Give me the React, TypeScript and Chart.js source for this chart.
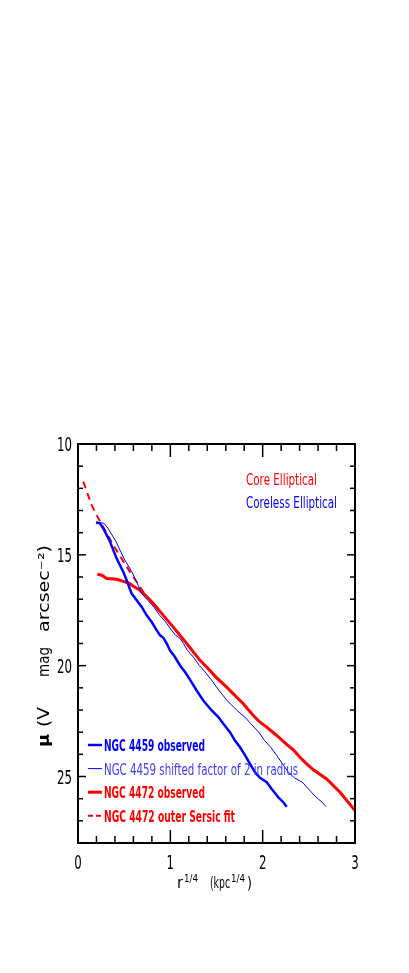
import React, { useEffect, useRef } from 'react';
import { Chart, registerables } from 'chart.js';

Chart.register(...registerables);

// ---------- data ----------
const n4459X = [0.195, 0.238, 0.274, 0.347, 0.419, 0.491, 0.527, 0.581, 0.636, 0.69, 0.744, 0.798, 0.852, 0.888, 0.924, 0.961, 0.996, 1.05, 1.105, 1.159, 1.213, 1.285, 1.357, 1.448, 1.52, 1.574, 1.646, 1.70, 1.755, 1.81, 1.863, 1.917, 1.971, 2.044, 2.098, 2.17, 2.224, 2.26];
const n4459Y = [13.54, 13.58, 13.81, 14.41, 15.17, 15.77, 16.15, 16.75, 17.05, 17.35, 17.73, 18.03, 18.4, 18.63, 18.74, 19.0, 19.31, 19.61, 19.99, 20.29, 20.63, 21.12, 21.57, 22.02, 22.32, 22.62, 23.0, 23.38, 23.68, 24.05, 24.43, 24.81, 25.06, 25.26, 25.56, 25.94, 26.16, 26.36];

const n4459ShiftX = [0.205, 0.283, 0.326, 0.413, 0.498, 0.584, 0.627, 0.691, 0.756, 0.821, 0.885, 0.949, 1.013, 1.056, 1.099, 1.143, 1.184, 1.249, 1.314, 1.378, 1.442, 1.528, 1.614, 1.722, 1.807, 1.872, 1.957, 2.021, 2.087, 2.152, 2.215, 2.279, 2.344, 2.43, 2.495, 2.58, 2.644, 2.687];
const n4459ShiftY = [13.52, 13.58, 13.81, 14.41, 15.17, 15.77, 16.15, 16.75, 17.05, 17.35, 17.73, 18.03, 18.4, 18.63, 18.74, 19.0, 19.31, 19.61, 19.99, 20.29, 20.63, 21.12, 21.57, 22.02, 22.32, 22.62, 23.0, 23.38, 23.68, 24.05, 24.43, 24.81, 25.06, 25.26, 25.56, 25.94, 26.16, 26.36];

const n4472X = [0.209, 0.257, 0.31, 0.365, 0.419, 0.491, 0.563, 0.6, 0.671, 0.744, 0.816, 0.924, 1.032, 1.177, 1.321, 1.393, 1.502, 1.61, 1.682, 1.79, 1.899, 1.971, 2.044, 2.152, 2.26, 2.332, 2.404, 2.477, 2.549, 2.693, 2.838, 3.0];
const n4472Y = [15.87, 15.92, 16.07, 16.08, 16.1, 16.2, 16.3, 16.42, 16.6, 16.88, 17.2, 17.73, 18.26, 19.0, 19.76, 20.06, 20.55, 20.97, 21.27, 21.72, 22.25, 22.55, 22.77, 23.15, 23.55, 23.8, 24.13, 24.43, 24.7, 25.11, 25.71, 26.54];

const sersicX = [0.057, 0.148, 0.202, 0.3, 0.382, 0.47, 0.563, 0.707, 0.816, 0.924, 1.0];
const sersicY = [11.7, 12.76, 13.21, 13.95, 14.56, 15.15, 15.77, 16.67, 17.22, 17.74, 18.12];

const seriesLabels = [
  'NGC 4459 observed',
  'NGC 4459 shifted factor of 2 in radius',
  'NGC 4472 observed',
  'NGC 4472 outer Sersic fit',
];
const noteLabels = ['Core Elliptical', 'Coreless Elliptical'];
const xTickLabels = ['0', '1', '2', '3'];
const yTickLabels = ['10', '15', '20', '25'];

const xRange = [0, 3];
const yRange = [10, 28];
const xMajorStep = 1;
const xMinorStep = 0.2;
const yMajorStep = 5;
const yMinorStep = 1;

// ---------- styling / layout ----------
const BLUE = '#0000ff';
const RED = '#ff0000';
const TXT = 'DejaVu Sans, sans-serif';

const zip = (xs: number[], ys: number[]) => xs.map((x, i) => ({ x, y: ys[i] }));

function fitText(ctx: CanvasRenderingContext2D, text: string, x: number, y: number, w: number, font: string, color: string) {
  ctx.save();
  ctx.font = font;
  ctx.fillStyle = color;
  ctx.textAlign = 'left';
  ctx.textBaseline = 'alphabetic';
  const m = ctx.measureText(text).width || 1;
  ctx.translate(x, y);
  ctx.scale(w / m, 1);
  ctx.fillText(text, 0, 0);
  ctx.restore();
}

function scaledText(ctx: CanvasRenderingContext2D, text: string, x: number, y: number, sx: number, font: string, color: string, align: CanvasTextAlign) {
  ctx.save();
  ctx.font = font;
  ctx.fillStyle = color;
  ctx.textAlign = align;
  ctx.textBaseline = 'alphabetic';
  ctx.translate(x, y);
  ctx.scale(sx, 1);
  ctx.fillText(text, 0, 0);
  ctx.restore();
}

const decorPlugin = {
  id: 'decor',
  afterDatasetsDraw(chart: any) {
    const { ctx, chartArea: a, scales } = chart;
    const xs = scales.x;
    const ys = scales.y;
    ctx.save();
    ctx.strokeStyle = '#000';
    ctx.lineWidth = 2;
    ctx.strokeRect(a.left, a.top, a.right - a.left, a.bottom - a.top);

    const seg = (x1: number, y1: number, x2: number, y2: number) => {
      ctx.beginPath();
      ctx.moveTo(x1, y1);
      ctx.lineTo(x2, y2);
      ctx.stroke();
    };
    ctx.lineWidth = 1.5;
    const nx = Math.round((xRange[1] - xRange[0]) / xMinorStep);
    for (let i = 0; i <= nx; i++) {
      const v = xRange[0] + i * xMinorStep;
      const major = Math.abs(v / xMajorStep - Math.round(v / xMajorStep)) < 1e-6;
      const L = major ? 13 : 7;
      const px = xs.getPixelForValue(v);
      seg(px, a.bottom, px, a.bottom - L);
      seg(px, a.top, px, a.top + L);
    }
    const ny = Math.round((yRange[1] - yRange[0]) / yMinorStep);
    for (let i = 0; i <= ny; i++) {
      const v = yRange[0] + i * yMinorStep;
      const major = Math.abs(v / yMajorStep - Math.round(v / yMajorStep)) < 1e-6;
      const L = major ? 8 : 5;
      const py = ys.getPixelForValue(v);
      seg(a.left, py, a.left + L, py);
      seg(a.right, py, a.right - L, py);
    }

    // tick labels from the library's ticks
    const tickFont = `19px ${TXT}`;
    (xs.ticks || []).forEach((t: any) => {
      const lab = t.label ?? String(t.value);
      scaledText(ctx, String(lab), xs.getPixelForValue(t.value), a.bottom + 26, 0.62, tickFont, '#000', 'center');
    });
    (ys.ticks || []).forEach((t: any) => {
      const lab = t.label ?? String(t.value);
      scaledText(ctx, String(lab), a.left - 6, ys.getPixelForValue(t.value) + 7, 0.62, tickFont, '#000', 'right');
    });

    // legend (from datasets)
    const legW = [101, 194, 101, 131];
    chart.data.datasets.forEach((ds: any, i: number) => {
      const base = 751 + 23.6 * i;
      const ly = base - 6;
      ctx.save();
      ctx.strokeStyle = ds.borderColor;
      ctx.lineWidth = ds.borderWidth;
      ctx.setLineDash(ds.borderDash ? [5, 3] : []);
      seg(88, ly, 102, ly);
      ctx.restore();
      const bold = ds.borderWidth > 1.5;
      fitText(ctx, ds.label, 104, base, legW[i], `${bold ? 'bold ' : ''}15px ${TXT}`, bold ? ds.borderColor : '#3c3cff');
    });

    // annotations
    fitText(ctx, noteLabels[0], 246, 485, 71, `16px ${TXT}`, RED);
    fitText(ctx, noteLabels[1], 246, 508, 91, `16px ${TXT}`, BLUE);

    // x title: r^{1/4}  (kpc^{1/4})
    fitText(ctx, 'r', 177, 888, 6, `16px ${TXT}`, '#000');
    fitText(ctx, '1/4', 184, 882, 14, `11px ${TXT}`, '#000');
    fitText(ctx, '(kpc', 210, 888, 20, `16px ${TXT}`, '#000');
    fitText(ctx, '1/4', 231, 882, 14, `11px ${TXT}`, '#000');
    fitText(ctx, ')', 247, 888, 5, `16px ${TXT}`, '#000');

    // y title (rotated)
    ctx.save();
    ctx.translate(49, 750);
    ctx.rotate(-Math.PI / 2);
    fitText(ctx, 'μ', 3, 0, 13, `bold 16px ${TXT}`, '#000');
    fitText(ctx, '(V', 23, 0, 20, `16px ${TXT}`, '#000');
    fitText(ctx, 'mag', 73, 0, 30, `16px ${TXT}`, '#000');
    fitText(ctx, 'arcsec⁻²)', 118, 0, 87, `16px ${TXT}`, '#000');
    ctx.restore();

    ctx.restore();
  },
};

export default function App() {
  const ref = useRef<HTMLCanvasElement | null>(null);
  useEffect(() => {
    if (!ref.current) return;
    const chart = new Chart(ref.current, {
      type: 'scatter',
      data: {
        datasets: [
          { label: seriesLabels[0], data: zip(n4459X, n4459Y), borderColor: BLUE, backgroundColor: BLUE, borderWidth: 2.5, showLine: true, pointRadius: 0, fill: false },
          { label: seriesLabels[1], data: zip(n4459ShiftX, n4459ShiftY), borderColor: BLUE, backgroundColor: BLUE, borderWidth: 1, showLine: true, pointRadius: 0, fill: false },
          { label: seriesLabels[2], data: zip(n4472X, n4472Y), borderColor: RED, backgroundColor: RED, borderWidth: 3, showLine: true, pointRadius: 0, fill: false },
          { label: seriesLabels[3], data: zip(sersicX, sersicY), borderColor: RED, backgroundColor: RED, borderWidth: 2, borderDash: [7, 5], showLine: true, pointRadius: 0, fill: false },
        ] as any,
      },
      options: {
        animation: false,
        responsive: false,
        maintainAspectRatio: false,
        devicePixelRatio: 1,
        layout: { padding: { left: 0, top: 444, right: 54, bottom: 0 } },
        plugins: { legend: { display: false }, tooltip: { enabled: false } },
        scales: {
          x: {
            type: 'linear',
            min: xRange[0],
            max: xRange[1],
            grid: { display: false, drawTicks: false },
            border: { display: false },
            ticks: {
              display: false,
              stepSize: xMajorStep,
              includeBounds: false,
              callback: (v: any) => xTickLabels[Math.round((Number(v) - xRange[0]) / xMajorStep)],
            },
            afterFit: (s: any) => { s.height = 130; },
          },
          y: {
            type: 'linear',
            min: yRange[0],
            max: yRange[1],
            reverse: true,
            grid: { display: false, drawTicks: false },
            border: { display: false },
            ticks: {
              display: false,
              stepSize: yMajorStep,
              includeBounds: false,
              callback: (v: any) => yTickLabels[Math.round((Number(v) - yRange[0]) / yMajorStep)],
            },
            afterFit: (s: any) => { s.width = 78; },
          },
        },
      } as any,
      plugins: [decorPlugin],
    });
    return () => chart.destroy();
  }, []);
  return (
    <div style={{ position: 'absolute', left: 0, top: 0, width: 409, height: 973, background: '#fff' }}>
      <canvas ref={ref} width={409} height={973} style={{ display: 'block' }} />
    </div>
  );
}
